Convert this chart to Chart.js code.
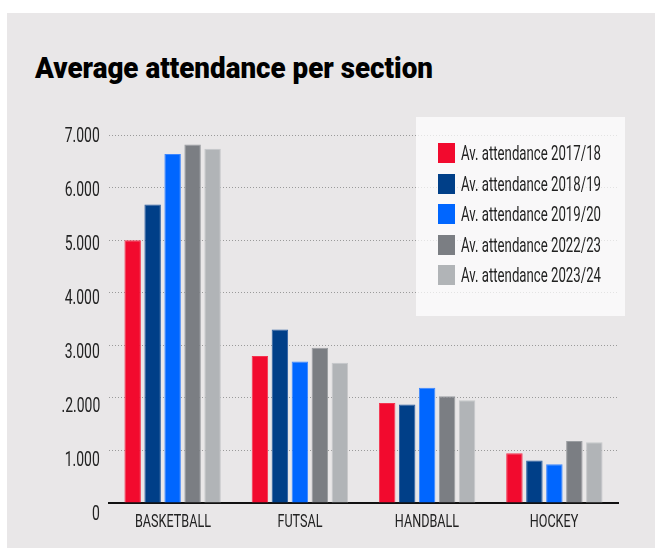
<!DOCTYPE html>
<html lang="en">
<head>
<meta charset="UTF-8">
<title>Average attendance per section</title>
<style>
    * { margin: 0; padding: 0; box-sizing: border-box; }

    body {
        width: 655px;
        height: 549px;
        position: relative;
        overflow: hidden;
        background: #fff;
        font-family: Roboto, 'Liberation Sans', sans-serif;
        color: #222;
    }

    .panel {
        position: absolute;
        left: 7px; top: 13px;
        width: 648px; height: 535px;
        background: #e9e7e8;
    }

    h1 {
        position: absolute;
        left: 35px; top: 53.5px;
        font-size: 29.5px;
        line-height: 29.5px;
        font-weight: 900;
        color: #000;
        white-space: nowrap;
        transform-origin: left top;
    }

    .chart-box {
        position: absolute;
        left: 0; top: 0;
        width: 655px; height: 549px;
    }

    .tick-layer {
        position: absolute;
        left: 0; top: 0;
        width: 655px; height: 549px;
        pointer-events: none;
    }

    .ytick {
        position: absolute;
        font-size: 21px;
        line-height: 21px;
        white-space: nowrap;
        transform-origin: right center;
    }

    .xtick {
        position: absolute;
        font-size: 18.7px;
        line-height: 18.7px;
        white-space: nowrap;
        transform-origin: left top;
    }

    .legend {
        position: absolute;
        left: 416px; top: 117px;
        width: 209px; height: 199px;
        background: rgba(255, 255, 255, 0.72);
        padding: 26px 0 0 22px;
    }

    .legend-item {
        display: flex;
        align-items: center;
        height: 20px;
        margin-bottom: 10.6px;
    }

    .legend-item .swatch {
        width: 17px; height: 20px;
        margin-right: 6px;
        flex: none;
    }

    .legend-item .text {
        display: inline-block;
        font-size: 21px;
        line-height: 20px;
        white-space: nowrap;
        transform-origin: left center;
    }
</style>
</head>
<body>
    <div class="panel"></div>
    <h1 id="title">Average attendance per section</h1>
    <div class="chart-box"><canvas id="attendanceChart"></canvas></div>
    <div class="tick-layer" id="ticks"></div>
    <div class="legend" id="legend"></div>

    <script src="https://cdn.jsdelivr.net/npm/chart.js"></script>
    <script>
        // Data
        const sections = ['BASKETBALL', 'FUTSAL', 'HANDBALL', 'HOCKEY'];
        const seasons = [
            'Av. attendance 2017/18',
            'Av. attendance 2018/19',
            'Av. attendance 2019/20',
            'Av. attendance 2022/23',
            'Av. attendance 2023/24'
        ];
        const att1718 = [5000, 2795, 1900, 946];
        const att1819 = [5680, 3300, 1875, 810];
        const att1920 = [6640, 2690, 2190, 735];
        const att2223 = [6820, 2955, 2030, 1180];
        const att2324 = [6740, 2670, 1955, 1155];
        const yTickLabels = ['0', '1.000', '.2.000', '3.000', '4.000', '5.000', '6.000', '7.000'];

        const seriesValues = [att1718, att1819, att1920, att2223, att2324];
        const fills = ['#f20a2e', '#003f88', '#0066ff', '#7b7e83', '#b1b4b7'];
        const edges = ['#f5344f', '#2a5ea0', '#3c86ff', '#9a9da1', '#c6c8ca'];

        // the original uses a very condensed face, so text gets squeezed to its width
        function squeezeFactor(el, target) {
            return target / el.getBoundingClientRect().width;
        }

        const title = document.getElementById('title');
        title.style.transform = 'scaleX(' + squeezeFactor(title, 398).toFixed(3) + ')';

        // axis labels as html, placed from the chart's own scales
        const htmlTicks = {
            id: 'htmlTicks',
            afterRender(chart) {
                const layer = document.getElementById('ticks');
                layer.innerHTML = '';
                const xs = chart.scales.x;
                const ys = chart.scales.y;

                const yEls = ys.ticks.map((t) => {
                    const el = document.createElement('div');
                    el.className = 'ytick';
                    el.textContent = yTickLabels[Math.round(t.value / 1000)];
                    // labels sit a little lower than their line, more so near the bottom
                    const drift = 10 * (1 - t.value / ys.max);
                    el.style.top = (ys.getPixelForValue(t.value) + drift - 10.5) + 'px';
                    el.style.right = (655 - 100) + 'px';
                    layer.appendChild(el);
                    return el;
                });
                const ky = squeezeFactor(yEls[yEls.length - 1], 35);
                yEls.forEach((el) => { el.style.transform = 'scaleX(' + ky.toFixed(3) + ')'; });

                const xEls = xs.ticks.map((t, i) => {
                    const el = document.createElement('div');
                    el.className = 'xtick';
                    el.textContent = chart.data.labels[i];
                    el.style.left = xs.getPixelForTick(i) + 'px';
                    el.style.top = (xs.top + 18.5 - 9.35) + 'px';
                    layer.appendChild(el);
                    return el;
                });
                const kx = squeezeFactor(xEls[0], 76);
                xEls.forEach((el) => { el.style.transform = 'scaleX(' + kx.toFixed(3) + ') translateX(-50%)'; });
            }
        };

        const ctx = document.getElementById('attendanceChart').getContext('2d');
        const chart = new Chart(ctx, {
            type: 'bar',
            data: {
                labels: sections,
                datasets: seasons.map((label, i) => ({
                    label: label,
                    data: seriesValues[i],
                    backgroundColor: fills[i],
                    borderColor: edges[i],
                    borderWidth: 1,
                    borderSkipped: 'bottom',
                    barPercentage: 0.825,
                    categoryPercentage: 0.785
                }))
            },
            options: {
                responsive: true,
                maintainAspectRatio: false,
                animation: false,
                devicePixelRatio: 1,
                layout: {
                    padding: { top: 135, right: 37, bottom: 16, left: 0 }
                },
                scales: {
                    x: {
                        grid: { display: false },
                        border: { display: true, color: '#111', width: 2 },
                        ticks: { display: false },
                        afterFit: (scale) => { scale.height = 30; }
                    },
                    y: {
                        min: 0,
                        max: 7000,
                        grid: { color: '#9a9a9a', lineWidth: 1, drawTicks: false },
                        border: { display: false, dash: [1, 2] },
                        ticks: { stepSize: 1000, display: false },
                        afterFit: (scale) => { scale.width = 109; }
                    }
                },
                plugins: {
                    legend: { display: false },
                    tooltip: { enabled: false }
                }
            },
            plugins: [htmlTicks]
        });

        // HTML legend from the datasets
        const legendEl = document.getElementById('legend');
        const texts = [];
        chart.data.datasets.forEach((ds) => {
            const item = document.createElement('div');
            item.className = 'legend-item';
            const sw = document.createElement('span');
            sw.className = 'swatch';
            sw.style.background = ds.backgroundColor;
            const tx = document.createElement('span');
            tx.className = 'text';
            tx.textContent = ds.label;
            item.appendChild(sw);
            item.appendChild(tx);
            legendEl.appendChild(item);
            texts.push(tx);
        });
        const k = squeezeFactor(texts[0], 140);
        texts.forEach((t) => { t.style.transform = 'scaleX(' + k.toFixed(3) + ')'; });
    </script>
</body>
</html>
